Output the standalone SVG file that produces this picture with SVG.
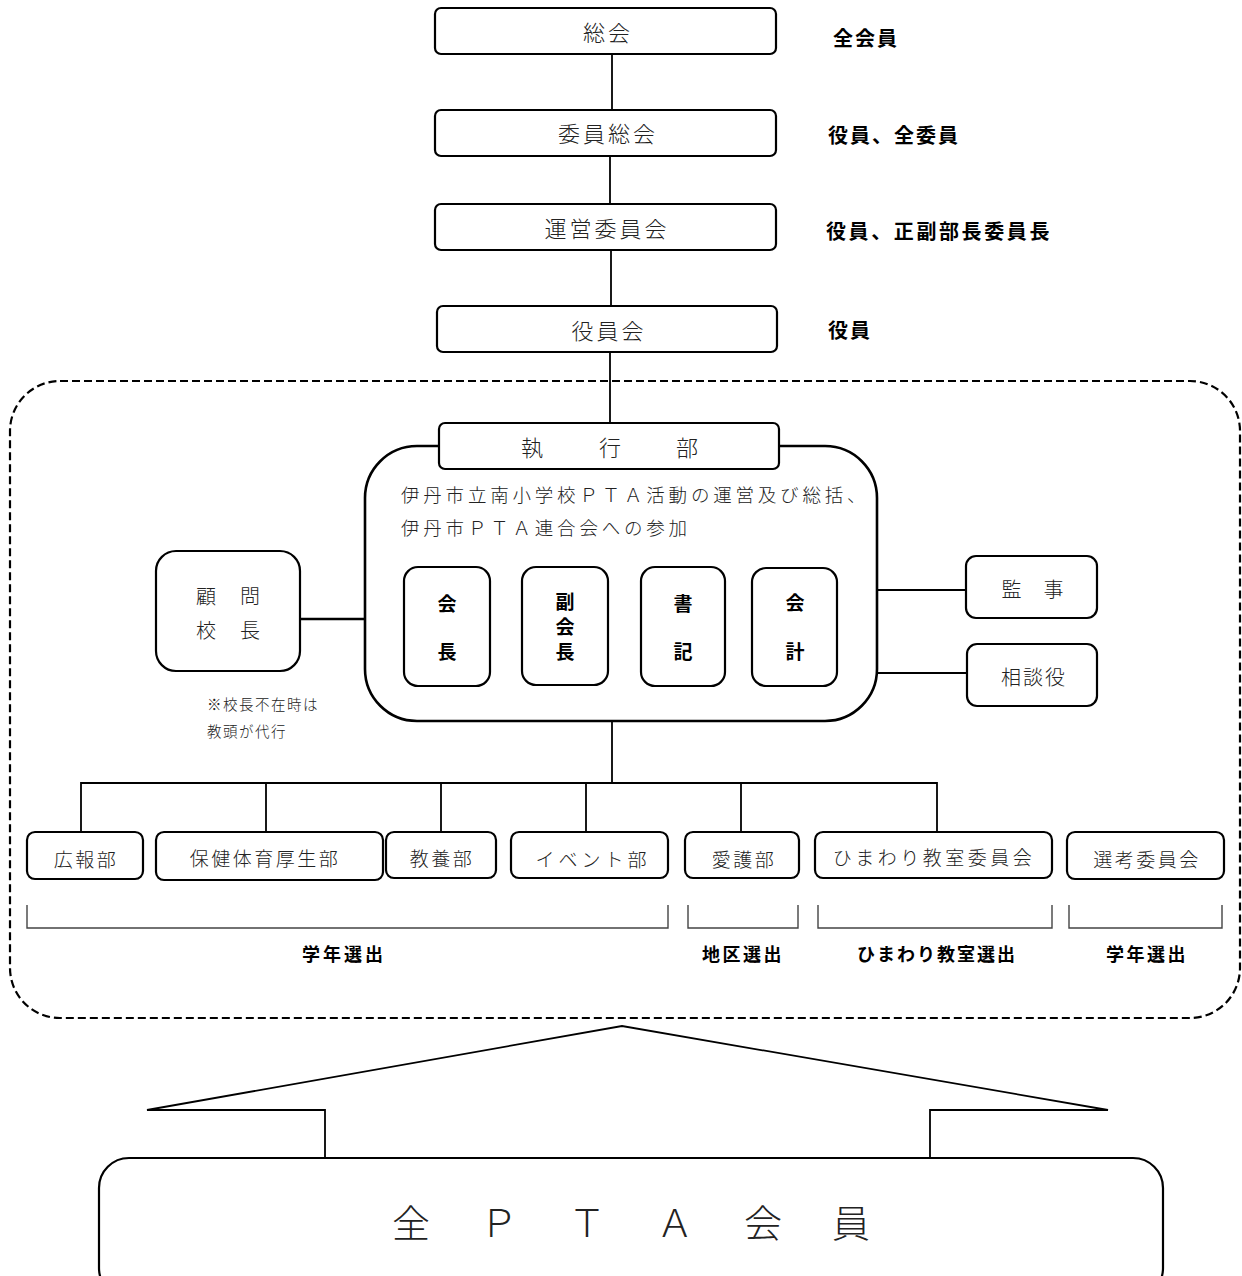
<svg xmlns="http://www.w3.org/2000/svg" width="1242" height="1276" viewBox="0 0 1242 1276">
<style>
.box{fill:#fff;stroke:#000;stroke-width:2.2}
.ln{fill:none;stroke:#000;stroke-width:1.8}
.br{fill:none;stroke:#444;stroke-width:1.4}
.t{font-family:"Noto Sans CJK JP","Noto Sans",sans-serif;font-weight:300;fill:#222;text-anchor:middle;dominant-baseline:central}
.b{font-family:"Noto Sans CJK JP","Noto Sans",sans-serif;font-weight:700;fill:#000;dominant-baseline:central}
.s19{font-size:19px;letter-spacing:2.5px}
.s22{font-size:22px;letter-spacing:3px}
</style>
<rect x="0" y="0" width="1242" height="1276" fill="#fff"/>
<g id="connectors">
<line class="ln" x1="612" y1="54" x2="612" y2="110"/>
<line class="ln" x1="610" y1="156" x2="610" y2="204"/>
<line class="ln" x1="611" y1="250" x2="611" y2="306"/>
<line class="ln" x1="610" y1="352" x2="610" y2="423"/>
<line class="ln" x1="300" y1="619" x2="365" y2="619" style="stroke-width:2.5"/>
<line class="ln" x1="877" y1="590" x2="966" y2="590"/>
<line class="ln" x1="877" y1="673" x2="967" y2="673"/>
<line class="ln" x1="612" y1="721" x2="612" y2="783"/>
<polyline class="ln" points="81,832 81,783 937,783 937,832"/>
<line class="ln" x1="266" y1="783" x2="266" y2="832"/>
<line class="ln" x1="441" y1="783" x2="441" y2="832"/>
<line class="ln" x1="586" y1="783" x2="586" y2="832"/>
<line class="ln" x1="741" y1="783" x2="741" y2="832"/>
</g>
<g id="brackets">
<polyline class="br" points="27,905 27,928 668,928 668,905"/>
<polyline class="br" points="688,905 688,928 798,928 798,905"/>
<polyline class="br" points="818,905 818,928 1052,928 1052,905"/>
<polyline class="br" points="1069,905 1069,928 1222,928 1222,905"/>
</g>
<rect id="frame" x="10" y="381" width="1230" height="637" rx="50" fill="none" stroke="#000" stroke-width="2.2" stroke-dasharray="8,4"/>
<g id="n-soukai"><rect class="box" x="435" y="8" width="341" height="46" rx="6"/><text class="t s22" x="608" y="31">総会</text></g>
<g id="n-iinsoukai"><rect class="box" x="435" y="110" width="341" height="46" rx="6"/><text class="t s22" x="608" y="132">委員総会</text></g>
<g id="n-unei"><rect class="box" x="435" y="204" width="341" height="46" rx="6"/><text class="t s22" x="607" y="227">運営委員会</text></g>
<g id="n-yakuinkai"><rect class="box" x="437" y="306" width="340" height="46" rx="6"/><text class="t s22" x="609" y="329">役員会</text></g>
<g id="labels-right">
<text class="b" x="833" y="37" style="font-size:20px;letter-spacing:2px">全会員</text>
<text class="b" x="828" y="134" style="font-size:20px;letter-spacing:2px">役員、全委員</text>
<text class="b" x="826" y="230" style="font-size:20px;letter-spacing:2.6px">役員、正副部長委員長</text>
<text class="b" x="828" y="329" style="font-size:20px;letter-spacing:2px">役員</text>
</g>
<g id="n-shikkou">
<rect class="box" x="365" y="446" width="512" height="275" rx="52" style="stroke-width:2.6"/>
<rect class="box" x="439" y="423" width="340" height="46" rx="6"/>
<text class="t" x="532" y="446" style="font-size:22px">執</text>
<text class="t" x="610" y="446" style="font-size:22px">行</text>
<text class="t" x="687" y="446" style="font-size:22px">部</text>
<text class="t" x="401" y="494" style="font-size:18.5px;letter-spacing:3.8px;text-anchor:start">伊丹市立南小学校ＰＴＡ活動の運営及び総括、</text>
<text class="t" x="401" y="527" style="font-size:18.5px;letter-spacing:3.8px;text-anchor:start">伊丹市ＰＴＡ連合会への参加</text>
</g>
<g id="n-kaichou"><rect class="box" x="404" y="567" width="86" height="119" rx="14"/><text class="b" x="447" y="602" text-anchor="middle" style="font-size:19px">会</text><text class="b" x="447" y="650" text-anchor="middle" style="font-size:19px">長</text></g>
<g id="n-fukukaichou"><rect class="box" x="522" y="567" width="86" height="118" rx="14"/><text class="b" x="565" y="600" text-anchor="middle" style="font-size:19px">副</text><text class="b" x="565" y="625" text-anchor="middle" style="font-size:19px">会</text><text class="b" x="565" y="650" text-anchor="middle" style="font-size:19px">長</text></g>
<g id="n-shoki"><rect class="box" x="641" y="567" width="84" height="119" rx="14"/><text class="b" x="683" y="602" text-anchor="middle" style="font-size:19px">書</text><text class="b" x="683" y="650" text-anchor="middle" style="font-size:19px">記</text></g>
<g id="n-kaikei"><rect class="box" x="752" y="568" width="85" height="118" rx="14"/><text class="b" x="795" y="601" text-anchor="middle" style="font-size:19px">会</text><text class="b" x="795" y="650" text-anchor="middle" style="font-size:19px">計</text></g>
<g id="n-komon"><rect class="box" x="156" y="551" width="144" height="120" rx="20"/><text class="t" x="229" y="595" style="font-size:20px;letter-spacing:2px">顧　問</text><text class="t" x="229" y="629" style="font-size:20px;letter-spacing:2px">校　長</text></g>
<g id="note"><text class="t" x="207" y="703" style="font-size:14.5px;letter-spacing:1.5px;text-anchor:start">※校長不在時は</text><text class="t" x="207" y="730" style="font-size:14.5px;letter-spacing:1.5px;text-anchor:start">教頭が代行</text></g>
<g id="n-kanji"><rect class="box" x="966" y="556" width="131" height="62" rx="10"/><text class="t" x="1033" y="588" style="font-size:20px;letter-spacing:1px">監　事</text></g>
<g id="n-soudan"><rect class="box" x="967" y="644" width="130" height="62" rx="10"/><text class="t" x="1034" y="676" style="font-size:20px;letter-spacing:2px">相談役</text></g>
<g id="n-kouhou"><rect class="box" x="27" y="832" width="116" height="47" rx="8"/><text class="t s19" x="86" y="858">広報部</text></g>
<g id="n-hoken"><rect class="box" x="156" y="832" width="227" height="48" rx="8"/><text class="t s19" x="265" y="857">保健体育厚生部</text></g>
<g id="n-kyouyou"><rect class="box" x="386" y="832" width="110" height="46" rx="8"/><text class="t s19" x="442" y="857">教養部</text></g>
<g id="n-event"><rect class="box" x="511" y="832" width="157" height="46" rx="8"/><text class="t s19" x="593" y="858" style="letter-spacing:4px">イベント部</text></g>
<g id="n-aigo"><rect class="box" x="685" y="832" width="114" height="46" rx="8"/><text class="t s19" x="744" y="858">愛護部</text></g>
<g id="n-himawari"><rect class="box" x="815" y="832" width="237" height="46" rx="8"/><text class="t s19" x="934" y="856" style="letter-spacing:3.5px">ひまわり教室委員会</text></g>
<g id="n-senkou"><rect class="box" x="1067" y="832" width="157" height="47" rx="8"/><text class="t s19" x="1147" y="858">選考委員会</text></g>
<g id="labels-bottom">
<text class="b" x="344" y="953" text-anchor="middle" style="font-size:18px;letter-spacing:3px">学年選出</text>
<text class="b" x="743" y="953" text-anchor="middle" style="font-size:18px;letter-spacing:2.5px">地区選出</text>
<text class="b" x="937" y="953" text-anchor="middle" style="font-size:18px;letter-spacing:2px">ひまわり教室選出</text>
<text class="b" x="1147" y="953" text-anchor="middle" style="font-size:18px;letter-spacing:2.5px">学年選出</text>
</g>
<g id="arrow">
<polyline class="ln" points="325,1158 325,1110 147,1110 622,1026 1108,1110 930,1110 930,1158"/>
</g>
<g id="n-zenkaiin"><rect class="box" x="99" y="1158" width="1064" height="140" rx="30"/><text class="t" x="634" y="1220" style="font-size:38px;letter-spacing:6px">全　Ｐ　Ｔ　Ａ　会　員</text></g>
</svg>
